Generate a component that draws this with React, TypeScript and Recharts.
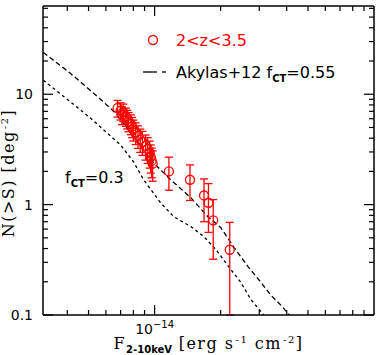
import React from 'react';
import { ComposedChart, Line, Scatter, XAxis, YAxis, ErrorBar, Customized } from 'recharts';

const CHART_W = 382;
const CHART_H = 355;

// Observed sources, 2<z<3.5 : flux S (erg s^-1 cm^-2), N(>S) (deg^-2), errors
const obsFlux = [
  0.678e-14, 0.70e-14, 0.72e-14, 0.71e-14, 0.74e-14, 0.75e-14, 0.76e-14, 0.78e-14, 0.79e-14, 0.80e-14,
  0.82e-14, 0.84e-14, 0.86e-14, 0.88e-14, 0.91e-14, 0.93e-14, 0.95e-14, 0.96e-14, 0.97e-14, 0.98e-14,
  1.162e-14, 1.45e-14, 1.68e-14, 1.76e-14, 1.85e-14, 2.2e-14,
];
const obsN = [
  7.5, 7.1, 6.9, 6.5, 6.3, 6.0, 5.7, 5.4, 5.1, 4.8,
  4.5, 4.2, 3.9, 3.7, 3.4, 3.2, 2.95, 2.7, 2.5, 2.35,
  2.0, 1.68, 1.21, 1.04, 0.72, 0.39,
];
const obsErrLow = [
  1.29, 1.26, 1.24, 1.2, 1.18, 1.15, 1.13, 1.1, 1.06, 1.03,
  1.0, 0.97, 0.93, 0.91, 0.87, 0.84, 0.81, 0.77, 0.75, 0.72,
  0.65, 0.59, 0.51, 0.48, 0.4, 0.29,
];
const obsErrHigh = [
  1.29, 1.26, 1.24, 1.2, 1.18, 1.15, 1.13, 1.1, 1.06, 1.03,
  1.0, 0.97, 0.93, 0.91, 0.87, 0.84, 0.81, 0.77, 0.75, 0.72,
  0.69, 0.61, 0.5, 0.51, 0.39, 0.3,
];

// Akylas+12 model, f_CT = 0.55
const akyl55Flux = [
  0.311e-14, 0.413e-14, 0.573e-14, 0.664e-14, 0.777e-14, 0.989e-14, 1.183e-14, 1.46e-14,
  1.746e-14, 2.0e-14, 2.3e-14, 2.66e-14, 3.05e-14, 3.39e-14, 3.76e-14, 4.15e-14,
];
const akyl55N = [23.9, 15.5, 8.83, 6.74, 4.45, 2.39, 1.68, 1.16, 0.78, 0.621, 0.41, 0.276, 0.198, 0.151, 0.123, 0.098];

// Akylas+12 model, f_CT = 0.3
const akyl30Flux = [
  0.311e-14, 0.413e-14, 0.51e-14, 0.567e-14, 0.7e-14, 0.802e-14, 0.891e-14, 1.065e-14,
  1.22e-14, 1.46e-14, 1.674e-14, 1.9e-14, 2.22e-14, 2.47e-14, 2.74e-14, 3.17e-14,
];
const akyl30N = [13.4, 8.55, 6.08, 5.04, 3.47, 2.44, 1.68, 1.04, 0.78, 0.634, 0.515, 0.393, 0.26, 0.198, 0.139, 0.098];

const xDomain = [3.1e-15, 1e-13];
const yDomain = [0.1, 63];
const xTicks = [4e-15, 5e-15, 6e-15, 7e-15, 8e-15, 9e-15, 1e-14, 2e-14, 3e-14, 4e-14, 5e-14, 6e-14, 7e-14, 8e-14, 9e-14];
const yTicks = [0.1, 0.2, 0.3, 0.4, 0.5, 0.6, 0.7, 0.8, 0.9, 1, 2, 3, 4, 5, 6, 7, 8, 9, 10, 20, 30, 40, 50, 60];

const obsData = obsFlux.map((s, i) => ({ s, n: obsN[i], err: [obsErrLow[i], obsErrHigh[i]] }));
const akyl55Data = akyl55Flux.map((s, i) => ({ s, n: akyl55N[i] }));
const akyl30Data = akyl30Flux.map((s, i) => ({ s, n: akyl30N[i] }));

const RED = '#ff0000';
const SANS = 'DejaVu Sans, sans-serif';
const SERIF = 'DejaVu Serif, serif';

const isMajor = (v: number) => Math.abs(Math.log10(v) - Math.round(Math.log10(v))) < 1e-6;
const MAJ = 10;
const MIN = 5;
const TW = 1.2;

function BottomTick(props: any) {
  const { x, y, payload } = props;
  const v = payload.value;
  const major = isMajor(v);
  const exp = Math.round(Math.log10(v));
  return (
    <g>
      <line x1={x} x2={x} y1={y} y2={y - (major ? MAJ : MIN)} stroke="#000" strokeWidth={TW} />
      {major && (
        <text x={x} y={y + 19} textAnchor="middle" fontFamily={SANS} fontSize={14} fill="#000">
          10<tspan dy={-6} fontSize={10}>{'\u2212' + Math.abs(exp)}</tspan>
        </text>
      )}
    </g>
  );
}
function TopTick(props: any) {
  const { x, y, payload } = props;
  const major = isMajor(payload.value);
  return <line x1={x} x2={x} y1={y} y2={y + (major ? MAJ : MIN)} stroke="#000" strokeWidth={TW} />;
}
function LeftTick(props: any) {
  const { x, y, payload } = props;
  const v = payload.value;
  const major = isMajor(v);
  return (
    <g>
      <line x1={x} x2={x + (major ? MAJ : MIN)} y1={y} y2={y} stroke="#000" strokeWidth={TW} />
      {major && (
        <text x={x - 10} y={y} dy="0.36em" textAnchor="end" fontFamily={SANS} fontSize={14} fill="#000">
          {String(v)}
        </text>
      )}
    </g>
  );
}
function RightTick(props: any) {
  const { x, y, payload } = props;
  const major = isMajor(payload.value);
  return <line x1={x} x2={x - (major ? MAJ : MIN)} y1={y} y2={y} stroke="#000" strokeWidth={TW} />;
}

function XLabel(props: any) {
  const { viewBox } = props;
  const cx = viewBox.x + viewBox.width / 2;
  return (
    <text x={cx} y={viewBox.y + 34} textAnchor="middle" fontFamily={SERIF} fontSize={16} fill="#000" letterSpacing={1.5}>
      F<tspan dy={4} fontSize={10} fontFamily={SANS} fontWeight="bold" letterSpacing={0}>2-10keV</tspan>
      <tspan dy={-4}>{'  [erg s'}</tspan>
      <tspan dx={1} dy={-6} fontSize={10}>-1</tspan>
      <tspan dy={6}>{'  cm'}</tspan>
      <tspan dx={1} dy={-6} fontSize={10}>-2</tspan>
      <tspan dy={6}>]</tspan>
    </text>
  );
}
function YLabel() {
  const cx = 14;
  const cy = 173;
  return (
    <text x={cx} y={cy} transform={`rotate(-90 ${cx} ${cy})`} textAnchor="middle" fontFamily={SERIF} fontSize={16} fill="#000" letterSpacing={1.5}>
      {'N(>S)  [deg'}
      <tspan dx={1} dy={-6} fontSize={10}>-2</tspan>
      <tspan dy={6}>]</tspan>
    </text>
  );
}

function Annotations() {
  return (
    <g>
      <circle cx={153} cy={40} r={4.5} fill="none" stroke={RED} strokeWidth={1.3} />
      <text x={176} y={46} fontFamily={SANS} fontSize={16} fill={RED}>{'2<z<3.5'}</text>
      <line x1={143} x2={157} y1={72} y2={72} stroke="#000" strokeWidth={1.3} />
      <line x1={162} x2={166} y1={72} y2={72} stroke="#000" strokeWidth={1.3} />
      <text x={176} y={78} fontFamily={SANS} fontSize={16} fill="#000">
        {'Akylas+12 f'}
        <tspan dy={4} fontSize={10} fontWeight="bold">CT</tspan>
        <tspan dy={-4}>=0.55</tspan>
      </text>
      <text x={65} y={183} fontFamily={SANS} fontSize={16} fill="#000">
        f<tspan dy={4} fontSize={10} fontWeight="bold">CT</tspan>
        <tspan dy={-4}>=0.3</tspan>
      </text>
    </g>
  );
}

const OpenCircle = (props: any) => {
  const { cx, cy } = props;
  return <circle cx={cx} cy={cy} r={4.5} fill="none" stroke={RED} strokeWidth={1.3} />;
};

export default function App() {
  return (
    <div style={{ position: 'absolute', left: 0, top: 0, width: CHART_W, height: CHART_H, background: '#fff' }}>
      <ComposedChart width={CHART_W} height={CHART_H} margin={{ top: 5, right: 7, bottom: 0, left: 0 }}>
        <XAxis
          xAxisId="b"
          dataKey="s"
          type="number"
          scale="log"
          domain={xDomain}
          allowDataOverflow
          ticks={xTicks}
          interval={0}
          tickLine={false}
          tickSize={0}
          tickMargin={0}
          height={40}
          axisLine={{ stroke: '#000', strokeWidth: 1.5 }}
          tick={(p: any) => <BottomTick {...p} />}
          label={<XLabel />}
        />
        <XAxis
          xAxisId="t"
          orientation="top"
          dataKey="s"
          type="number"
          scale="log"
          domain={xDomain}
          allowDataOverflow
          ticks={xTicks}
          interval={0}
          tickLine={false}
          tickSize={0}
          tickMargin={0}
          height={1}
          axisLine={{ stroke: '#000', strokeWidth: 1.5 }}
          tick={(p: any) => <TopTick {...p} />}
        />
        <YAxis
          yAxisId="l"
          type="number"
          scale="log"
          domain={yDomain}
          allowDataOverflow
          ticks={yTicks}
          interval={0}
          tickLine={false}
          tickSize={0}
          tickMargin={0}
          width={43}
          axisLine={{ stroke: '#000', strokeWidth: 1.5 }}
          tick={(p: any) => <LeftTick {...p} />}
          label={<YLabel />}
        />
        <YAxis
          yAxisId="r"
          orientation="right"
          type="number"
          scale="log"
          domain={yDomain}
          allowDataOverflow
          ticks={yTicks}
          interval={0}
          tickLine={false}
          tickSize={0}
          tickMargin={0}
          width={1}
          axisLine={{ stroke: '#000', strokeWidth: 1.5 }}
          tick={(p: any) => <RightTick {...p} />}
        />
        <Line
          xAxisId="b"
          yAxisId="l"
          data={akyl55Data}
          dataKey="n"
          type="linear"
          stroke="#000"
          strokeWidth={1.3}
          strokeDasharray="5 3"
          dot={false}
          activeDot={false}
          isAnimationActive={false}
        />
        <Line
          xAxisId="b"
          yAxisId="l"
          data={akyl30Data}
          dataKey="n"
          type="linear"
          stroke="#000"
          strokeWidth={1.3}
          strokeDasharray="3 3"
          dot={false}
          activeDot={false}
          isAnimationActive={false}
        />
        <Scatter
          xAxisId="b"
          yAxisId="l"
          data={obsData}
          dataKey="n"
          shape={OpenCircle}
          isAnimationActive={false}
        >
          <ErrorBar dataKey="err" direction="y" width={4} stroke={RED} strokeWidth={1.3} isAnimationActive={false} />
        </Scatter>
        <Customized component={Annotations} />
      </ComposedChart>
    </div>
  );
}
